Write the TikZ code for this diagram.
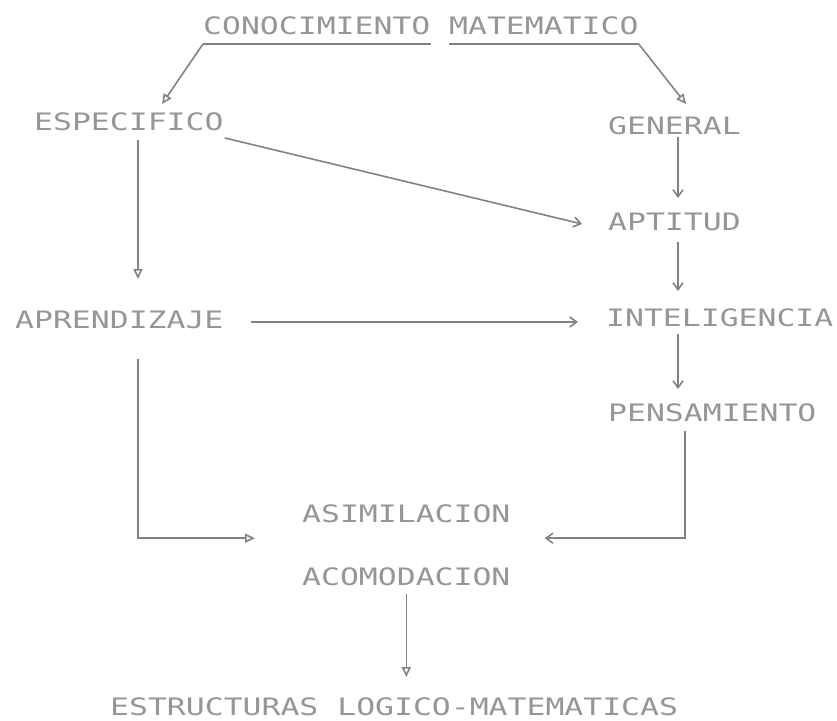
\documentclass[tikz,border=0pt]{standalone}
\usepackage{fontspec}
\newfontfamily\dm[FakeStretch=1.31]{DejaVu Sans Mono}
\usetikzlibrary{arrows.meta}
\definecolor{txt}{RGB}{150,150,150}
\definecolor{ln}{RGB}{130,130,130}
\begin{document}
\begin{tikzpicture}[x=1pt,y=-1pt,
  lbl/.style={font=\dm\fontsize{24}{24}\selectfont, text=txt, inner sep=0pt, anchor=west, text height=17.5pt, text depth=0pt},
  conn/.style={draw=ln, line width=1.6pt},
  tri/.style={conn, -{Triangle[open,length=10pt,width=9pt,line width=1.6pt]}},
  barb/.style={conn, -{Straight Barb[length=7pt,width=10pt]}}]
\useasboundingbox (0,0) rectangle (837,720);
% labels
\node[lbl] (c1) at (203,26) {CONOCIMIENTO};
\node[lbl] (c2) at (449,26) {MATEMATICO};
\node[lbl] (esp) at (34,122) {ESPECIFICO};
\node[lbl] (gen) at (608,126) {GENERAL};
\node[lbl] (apt) at (608,222) {APTITUD};
\node[lbl] (apr) at (15,320) {APRENDIZAJE};
\node[lbl] (int) at (606,318) {INTELIGENCIA};
\node[lbl] (pen) at (608,413) {PENSAMIENTO};
\node[lbl] (asi) at (302,514) {ASIMILACION};
\node[lbl] (aco) at (302,577) {ACOMODACION};
\node[lbl] (est) at (110,707) {ESTRUCTURAS LOGICO-MATEMATICAS};
% underlines
\draw[conn] ([yshift=-9pt]c1.south west) -- ([yshift=-9pt]c1.south east);
\draw[conn] ([yshift=-9pt]c2.south west) -- ([yshift=-9pt]c2.south east);
% connectors
\draw[tri] ([yshift=-9pt]c1.south west) -- ([xshift=128pt,yshift=9pt]esp.north west);
\draw[tri] ([yshift=-9pt]c2.south east) -- ([xshift=78pt,yshift=13pt]gen.north west);
\draw[barb] ([xshift=70pt,yshift=-2pt]gen.south west) -- ([xshift=70pt,yshift=15pt]apt.north west);
\draw[barb] ([xshift=1pt,yshift=-7pt]esp.south east) -- ([xshift=-26pt,yshift=-2pt]apt.west);
\draw[tri] ([xshift=104pt,yshift=-9pt]esp.south west) -- ([xshift=123pt,yshift=32pt]apr.north west);
\draw[barb] ([xshift=70pt,yshift=-11pt]apt.south west) -- ([xshift=72pt,yshift=18pt]int.north west);
\draw[barb] ([xshift=27pt,yshift=-2pt]apr.east) -- ([xshift=-28pt,yshift=-4pt]int.west);
\draw[barb] ([xshift=72pt,yshift=-7pt]int.south west) -- ([xshift=70pt,yshift=15pt]pen.north west);
\draw[barb] ([xshift=77pt,yshift=-9pt]pen.south west) |- ([xshift=34pt,yshift=-15.25pt]asi.south east);
\draw[tri] ([xshift=123pt,yshift=-30pt]apr.south west) |- ([xshift=-47pt,yshift=-15.25pt]asi.south west);
\draw[tri] ([yshift=-8pt]aco.south) -- ([yshift=21pt]aco.south |- est.north);
\end{tikzpicture}
\end{document}
